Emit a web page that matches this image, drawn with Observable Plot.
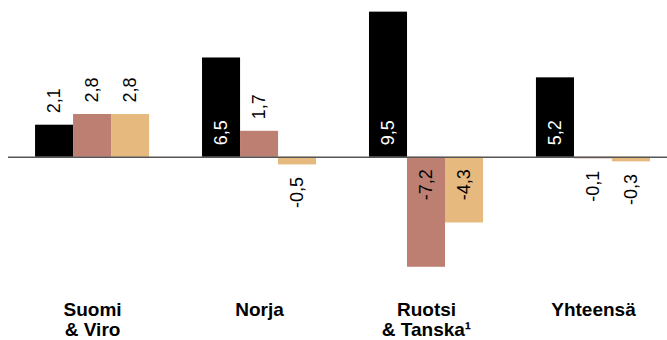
<!DOCTYPE html>
<html>
<head>
<meta charset="utf-8">
<script src="https://cdn.jsdelivr.net/npm/d3@7"></script>
<script src="https://cdn.jsdelivr.net/npm/@observablehq/plot@0.6"></script>
<style>
  html, body { margin: 0; padding: 0; background: #fff; }
  #chart { width: 667px; height: 340px; }
</style>
</head>
<body>
<div id="chart"></div>
<script>
const groups = ["Suomi & Viro", "Norja", "Ruotsi & Tanska", "Yhteensä"];
const groupLabels = ["Suomi\n& Viro", "Norja", "Ruotsi\n& Tanska¹", "Yhteensä"];
const seriesNames = ["A", "B", "C"];
const seriesColors = ["#000000", "#bd7f72", "#e6b97f"];
const valuesA = [2.1, 6.5, 9.5, 5.2];
const valuesB = [2.8, 1.7, -7.2, -0.1];
const valuesC = [2.8, -0.5, -4.3, -0.3];

const seriesValues = [valuesA, valuesB, valuesC];
const data = [];
seriesValues.forEach((vals, si) => {
  vals.forEach((v, gi) => data.push({group: groups[gi], series: seriesNames[si], si, value: v}));
});

const bandW = 38;
const fmt = v => d3.format(".1f")(v).replace(".", ",").replace("−", "-");
const inside = d => Math.abs(d.value) >= 3;

const marks = [];
seriesNames.forEach((s, si) => {
  const sub = data.filter(d => d.si === si);
  marks.push(Plot.barY(sub, {
    x: "group", y: "value", fill: seriesColors[si],
    insetLeft: si * bandW, insetRight: (2 - si) * bandW
  }));
});
marks.push(Plot.ruleY([0], {stroke: "#555", strokeWidth: 1.5}));
seriesNames.forEach((s, si) => {
  const sub = data.filter(d => d.si === si);
  const off = (si - 1) * bandW;
  marks.push(Plot.text(sub.filter(d => d.value >= 0), {
    x: "group", y: d => inside(d) ? 0 : d.value, text: d => fmt(d.value),
    rotate: -90, textAnchor: "start", dx: off, dy: -12,
    fill: d => inside(d) && si === 0 ? "#fff" : "#000",
    fontSize: 18
  }));
  marks.push(Plot.text(sub.filter(d => d.value < 0), {
    x: "group", y: d => inside(d) ? 0 : d.value, text: d => fmt(d.value),
    rotate: -90, textAnchor: "end", dx: off, dy: 12,
    fill: "#000",
    fontSize: 18
  }));
});
marks.push(Plot.axisX({
  tickSize: 0, tickPadding: 22, lineAnchor: "top",
  tickFormat: g => groupLabels[groups.indexOf(g)],
  fontSize: 19, fontWeight: "bold", fill: "#000", lineHeight: 1.06, label: null
}));

const chart = Plot.plot({
  width: 667, height: 340,
  marginLeft: 8, marginRight: 0, marginTop: 4, marginBottom: 61,
  style: {fontFamily: "'Liberation Sans', Arial, sans-serif", color: "#000", background: "#fff"},
  x: {domain: groups, paddingInner: 0.317, paddingOuter: 0.132, align: 0.614, round: false, axis: null},
  y: {domain: [-8, 10], axis: null},
  marks
});
document.getElementById("chart").appendChild(chart);
</script>
</body>
</html>
